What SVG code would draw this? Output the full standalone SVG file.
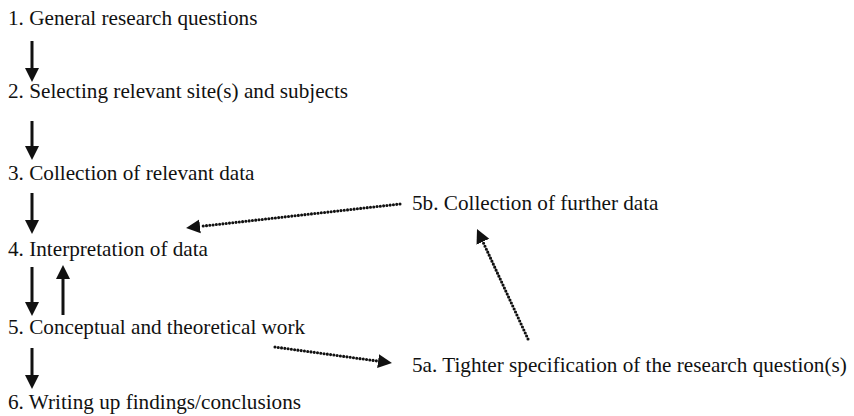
<svg xmlns="http://www.w3.org/2000/svg" width="854" height="416" viewBox="0 0 854 416">
<style>
text{font-family:"Liberation Serif","Times New Roman",serif;font-size:21.2px;fill:#111}
.solid{stroke:#111;stroke-width:3;fill:none}
.dot{stroke:#111;stroke-width:3.1;fill:none;stroke-dasharray:0 3.3;stroke-linecap:round}
</style>
<defs>
<marker id="head" markerUnits="userSpaceOnUse" markerWidth="16" markerHeight="16" viewBox="0 -8 16 16" refX="0" refY="0" orient="auto">
<path d="M0,-7 L14,0 L0,7 z" fill="#111"/>
</marker>
</defs>
<rect width="854" height="416" fill="#fff"/>
<g id="n1"><text x="8" y="25">1. General research questions</text></g>
<g id="n2"><text x="8" y="98">2. Selecting relevant site(s) and subjects</text></g>
<g id="n3"><text x="8" y="180">3. Collection of relevant data</text></g>
<g id="n4"><text x="8" y="256">4. Interpretation of data</text></g>
<g id="n5"><text x="8" y="334">5. Conceptual and theoretical work</text></g>
<g id="n6"><text x="8" y="409">6. Writing up findings/conclusions</text></g>
<g id="n5b"><text x="412" y="210">5b. Collection of further data</text></g>
<g id="n5a"><text x="412" y="372">5a. Tighter specification of the research question(s)</text></g>
<g id="connectors">
<line class="solid" x1="32" y1="41" x2="32" y2="68" marker-end="url(#head)"/>
<line class="solid" x1="32" y1="121" x2="32" y2="146" marker-end="url(#head)"/>
<line class="solid" x1="32" y1="193" x2="32" y2="220" marker-end="url(#head)"/>
<line class="solid" x1="32" y1="267" x2="32" y2="302" marker-end="url(#head)"/>
<line class="solid" x1="63" y1="315" x2="63" y2="279" marker-end="url(#head)"/>
<line class="solid" x1="32" y1="348" x2="32" y2="375" marker-end="url(#head)"/>
<line class="dot" x1="400" y1="204" x2="200" y2="226.4" marker-end="url(#head)"/>
<line class="dot" x1="275" y1="347" x2="378.1" y2="361.1" marker-end="url(#head)"/>
<line class="dot" x1="528" y1="339" x2="482.9" y2="241.7" marker-end="url(#head)"/>
</g>
</svg>
